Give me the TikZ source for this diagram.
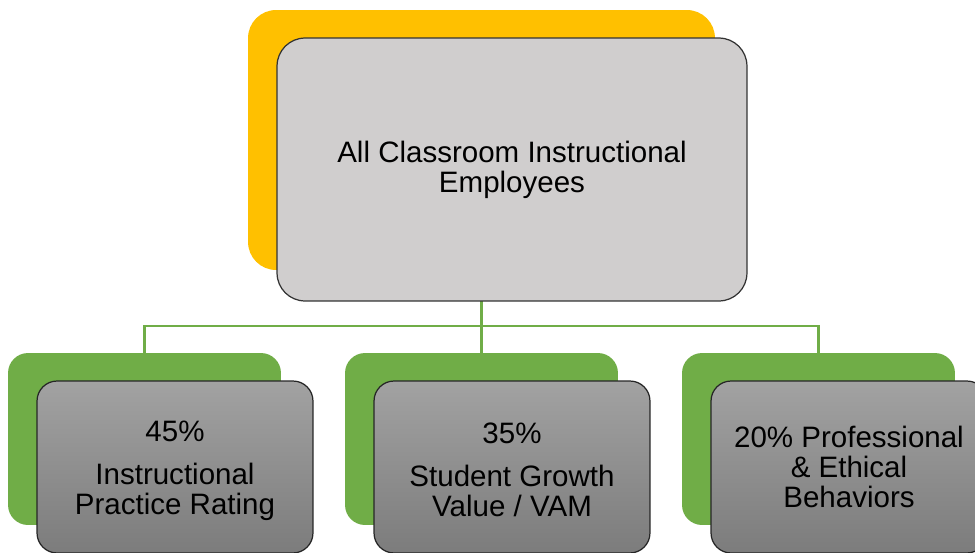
\documentclass[tikz,border=0pt]{standalone}
\usepackage{fontspec}
\setmainfont{Liberation Sans}
\usepackage{tikz}
\definecolor{gold}{RGB}{255,192,0}
\definecolor{leaf}{RGB}{112,173,71}
\definecolor{silver}{RGB}{208,206,206}
\definecolor{panelhi}{RGB}{162,162,162}
\definecolor{panello}{RGB}{124,124,124}
\newcommand\txt{\fontsize{16.8pt}{17.2pt}\selectfont}

\begin{document}
\begin{tikzpicture}[x=0.02cm,y=-0.02cm,
  goldbox/.style={rectangle,fill=gold,rounded corners=0.56cm,
    minimum width=9.34cm,minimum height=5.2cm,inner sep=0pt},
  leafbox/.style={rectangle,fill=leaf,rounded corners=0.4cm,
    minimum width=5.46cm,minimum height=3.44cm,inner sep=0pt},
  toppanel/.style={rectangle,draw=black!80,line width=0.7pt,fill=silver,
    rounded corners=0.56cm,minimum width=9.4cm,minimum height=5.26cm,
    inner sep=0pt,align=center,font=\txt},
  panel/.style={rectangle,draw=black!85,line width=0.7pt,
    top color=panelhi,bottom color=panello,rounded corners=0.4cm,
    minimum width=5.52cm,minimum height=3.44cm,inner sep=0pt},
  link/.style={draw=leaf,line width=1.2pt}]
\useasboundingbox (0,0) rectangle (975,552);
\clip (0,0) rectangle (975,552);

% coloured boxes behind
\node[goldbox] (topback) at (481.5,140) {};
\foreach \n/\x in {a/144.5,b/481.5,c/818.5}
  \node[leafbox] (\n back) at (\x,439) {};

% connectors
\coordinate (bus) at (481.5,326);
\draw[link] (topback.south) -- (bback.north);
\draw[link] (aback.north) |- (bus) -| (cback.north);

% grey panels in front
\node[toppanel] (top) at (512,169.5) {All Classroom Instructional\\Employees};
\foreach \n/\x/\d/\t in {a/175/-0.08cm/{45\%\\[6.8pt]Instructional\\Practice Rating},
    b/512/-0.06cm/{35\%\\[6.8pt]Student Growth\\Value / VAM},
    c/849/0cm/{20\% Professional\\\& Ethical\\Behaviors}}
  \node[panel,label={[font=\txt,align=center,yshift=\d]center:\t}] (\n) at (\x,467) {};
\end{tikzpicture}
\end{document}
